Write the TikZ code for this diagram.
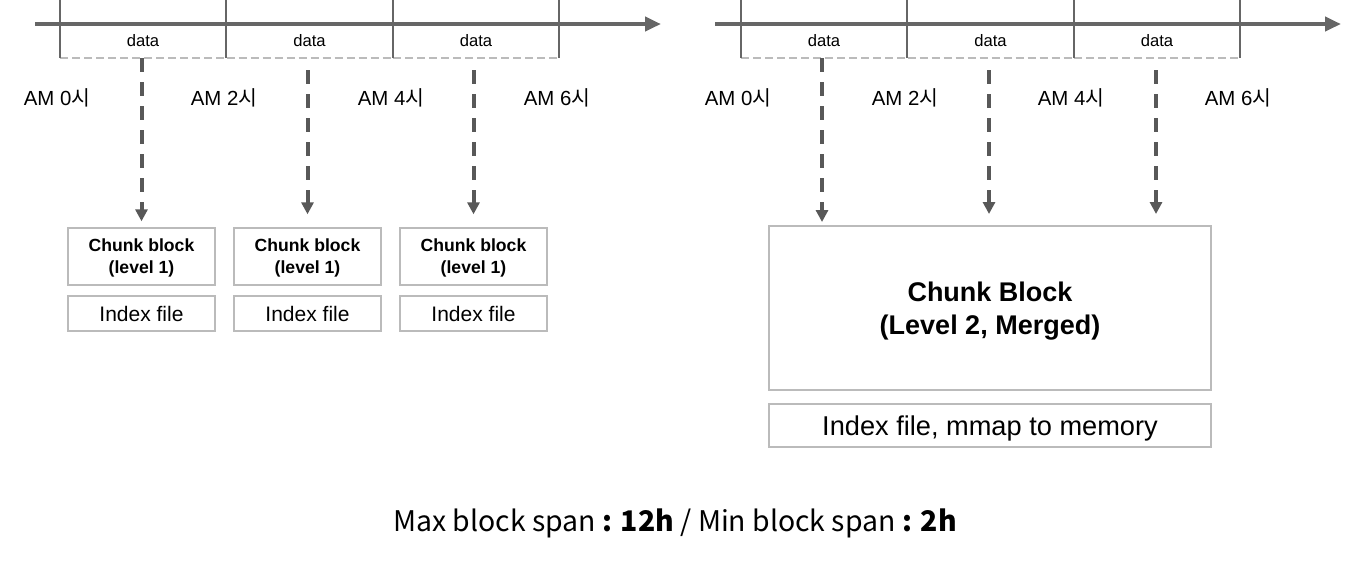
\documentclass[tikz,border=0pt]{standalone}
\usepackage{fontspec}
\setmainfont{Liberation Sans}
\newfontfamily\kr{Noto Sans CJK KR}
\usetikzlibrary{arrows.meta}
\definecolor{axisgray}{HTML}{666666}
\definecolor{boxgray}{HTML}{BBBBBB}
\definecolor{flowgray}{HTML}{585858}
\tikzset{
  axis/.style={draw=axisgray, line width=2pt, -{Triangle[width=7pt,length=8pt]}},
  tick/.style={draw=axisgray, line width=0.7pt},
  databox/.style={draw=boxgray, dash pattern=on 4pt off 2pt, line width=0.7pt, minimum width=83pt, minimum height=17pt, inner sep=0pt, font=\fontsize{8.3}{9}\selectfont},
  timelabel/.style={font=\fontsize{10.2}{11}\selectfont},
  chunkbox/.style={draw=boxgray, line width=0.7pt, minimum width=73.5pt, minimum height=28.5pt, inner sep=0pt, text depth=0pt, align=center, font=\bfseries\fontsize{8.8}{11}\selectfont},
  indexbox/.style={draw=boxgray, line width=0.7pt, minimum width=73.5pt, minimum height=17.5pt, inner sep=0pt, text depth=0pt, font=\fontsize{10.5}{12}\selectfont},
  flow/.style={draw=flowgray, line width=2pt, dash pattern=on 7pt off 5pt, -{Triangle[width=6pt,length=6pt]}}
}
\begin{document}
\begin{tikzpicture}[x=0.5pt, y=-0.5pt]
\useasboundingbox (0,0) rectangle (1352,570);
% left timeline
\node[databox] (dl1) at (143,41) {data};
\node[databox] (dl2) at (309.5,41) {data};
\node[databox] (dl3) at (476,41) {data};
\draw[tick] (60,0)--(60,58);
\draw[tick] (226,0)--(226,58);
\draw[tick] (393,0)--(393,58);
\draw[tick] (559,0)--(559,58);
\draw[axis] (35,24)--(661,24);
\node[timelabel] (tl0) at (57,98) {AM 0{\kr 시}};
\node[timelabel] (tl2) at (224,98) {AM 2{\kr 시}};
\node[timelabel] (tl4) at (391,98) {AM 4{\kr 시}};
\node[timelabel] (tl6) at (557,98) {AM 6{\kr 시}};
\node[chunkbox] (cl1) at (141.5,256.5) {Chunk block\\(level 1)};
\node[chunkbox] (cl2) at (307.5,256.5) {Chunk block\\(level 1)};
\node[chunkbox] (cl3) at (473.5,256.5) {Chunk block\\(level 1)};
\node[indexbox] (il1) at (141.5,313.5) {Index file};
\node[indexbox] (il2) at (307.5,313.5) {Index file};
\node[indexbox] (il3) at (473.5,313.5) {Index file};
\coordinate (sl2) at (307.5,70);
\coordinate (sl3) at (473.5,70);
\draw[flow, shorten >=3pt] (141.5,58)--(cl1.north);
\draw[flow, shorten >=6.5pt] (sl2)--(cl2.north);
\draw[flow, shorten >=6.5pt] (sl3)--(cl3.north);
% right timeline
\node[databox] (dr1) at (824,41) {data};
\node[databox] (dr2) at (990.5,41) {data};
\node[databox] (dr3) at (1157,41) {data};
\draw[tick] (741,0)--(741,58);
\draw[tick] (907,0)--(907,58);
\draw[tick] (1074,0)--(1074,58);
\draw[tick] (1240,0)--(1240,58);
\draw[axis] (715,24)--(1341,24);
\node[timelabel] (tr0) at (738,98) {AM 0{\kr 시}};
\node[timelabel] (tr2) at (905,98) {AM 2{\kr 시}};
\node[timelabel] (tr4) at (1071,98) {AM 4{\kr 시}};
\node[timelabel] (tr6) at (1238,98) {AM 6{\kr 시}};
\node[chunkbox, minimum width=221pt, minimum height=82pt, font=\bfseries\fontsize{13.5}{16.5}\selectfont] (merged) at (990,308) {Chunk Block\\(Level 2, Merged)};
\node[indexbox, minimum width=221pt, minimum height=21.5pt, font=\fontsize{13.6}{15}\selectfont] (mmap) at (990,425.5) {Index file, mmap to memory};
\coordinate (sr1) at (822,58);
\coordinate (er1) at (822,226);
\coordinate (sr2) at (989,70);
\coordinate (er2) at (989,214);
\coordinate (sr3) at (1156,70);
\coordinate (er3) at (1156,214);
\draw[flow, shorten >=2pt] (sr1)--(er1);
\draw[flow] (sr2)--(er2);
\draw[flow] (sr3)--(er3);
% span note
\node[font=\kr\fontsize{14.2}{16}\selectfont] (span) at (675,523) {Max block span {\bfseries: 12h} / Min block span {\bfseries: 2h}};
\end{tikzpicture}
\end{document}
